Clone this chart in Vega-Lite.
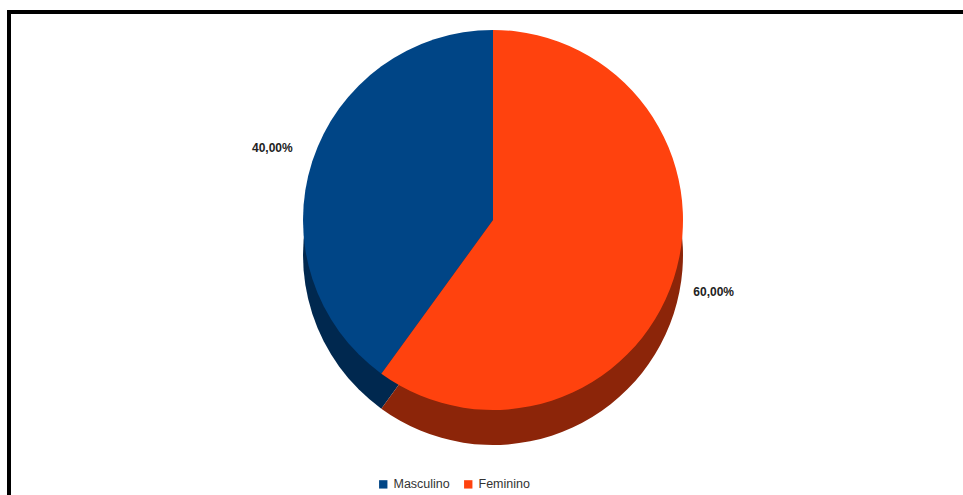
{
  "$schema": "https://vega.github.io/schema/vega-lite/v6.json",
  "autosize": "none",
  "padding": {"left": 9, "top": 12, "right": 0, "bottom": 0},
  "width": 968,
  "height": 500,
  "background": "white",
  "config": {
    "view": {"stroke": null},
    "locale": {"number": {"decimal": ",", "thousands": ".", "grouping": [3], "currency": ["", " €"]}},
    "font": "Liberation Sans"
  },
  "data": {
    "values": [
      {"sexo": "Masculino", "share": 0.4, "ord": 2},
      {"sexo": "Feminino", "share": 0.6, "ord": 1}
    ]
  },
  "layer": [
    {
      "mark": {"type": "rect", "fill": null, "stroke": "black", "strokeWidth": 4},
      "encoding": {}
    },
    {
      "mark": {"type": "arc", "outerRadius": 190, "y": {"expr": "height*0.416"}, "yOffset": 35},
      "encoding": {
        "theta": {"field": "share", "type": "quantitative", "stack": true},
        "order": {"field": "ord", "type": "quantitative"},
        "color": {
          "field": "sexo", "type": "nominal",
          "scale": {"domain": ["Masculino", "Feminino"], "range": ["#00284f", "#8c2509"]},
          "legend": null
        }
      }
    },
    {
      "mark": {"type": "arc", "outerRadius": 190, "y": {"expr": "height*0.416"}},
      "encoding": {
        "theta": {"field": "share", "type": "quantitative", "stack": true},
        "order": {"field": "ord", "type": "quantitative"},
        "color": {
          "field": "sexo", "type": "nominal",
          "scale": {"domain": ["Masculino", "Feminino"], "range": ["#004586", "#ff420e"]},
          "legend": {
            "title": null, "orient": "none", "direction": "horizontal",
            "legendX": 368, "legendY": 466,
            "symbolType": "square", "symbolSize": 70, "symbolStrokeWidth": 0,
            "labelFontSize": 12.5, "labelColor": "#333333", "labelFont": "Liberation Sans",
            "columnPadding": 12, "symbolOffset": 0
          }
        }
      }
    },
    {
      "mark": {"type": "text", "radius": 232, "y": {"expr": "height*0.416"}, "fontWeight": "bold", "fontSize": 12, "color": "#222222", "font": "Liberation Sans"},
      "encoding": {
        "theta": {"field": "share", "type": "quantitative", "stack": true},
        "order": {"field": "ord", "type": "quantitative"},
        "text": {"field": "share", "type": "quantitative", "format": ".2%"}
      }
    }
  ],
  "resolve": {"scale": {"color": "independent", "theta": "shared"}}
}
